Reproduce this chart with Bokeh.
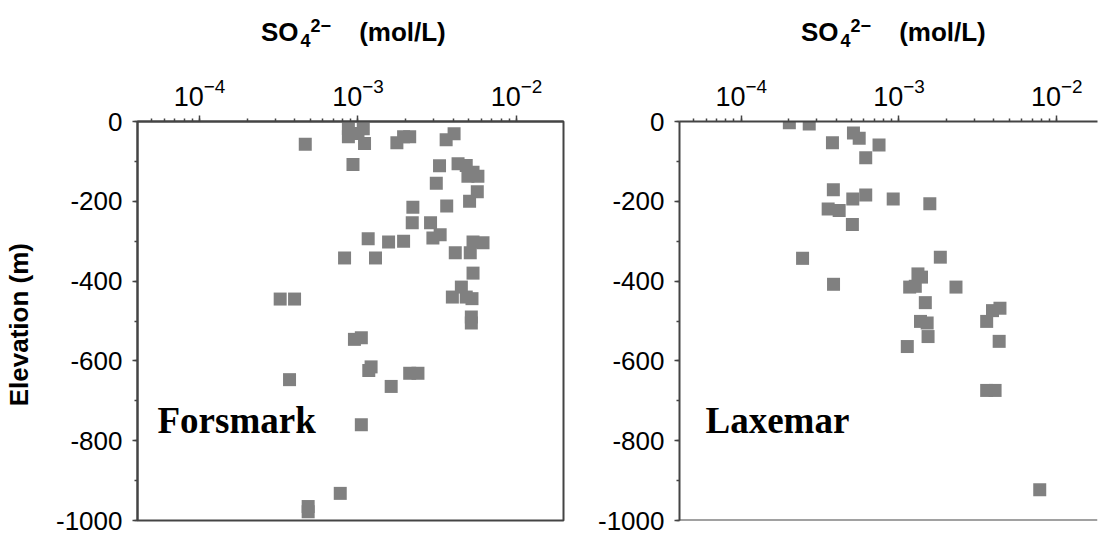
from bokeh.plotting import figure
from bokeh.models import Range1d, Label, Span, SingleIntervalTicker, PrintfTickFormatter, Div
from bokeh.layouts import row, column
from bokeh.embed import file_html
from bokeh.resources import INLINE

# ---- data (SO4 2- in mol/L, elevation in m) ----
fors_conc = [4.65e-4, 8.7e-4, 1.08e-3, 8.7e-4, 1.0e-3, 1.1e-3, 1.94e-3, 2.12e-3, 1.76e-3,
             4.04e-3, 3.6e-3, 9.3e-4, 3.27e-3, 4.28e-3, 4.82e-3, 4.94e-3, 5.71e-3, 5.32e-3,
             3.12e-3, 5.66e-3, 5.06e-3, 3.63e-3, 2.22e-3, 2.2e-3, 2.87e-3, 3.3e-3, 2.97e-3,
             1.16e-3, 1.56e-3, 1.94e-3, 5.32e-3, 6.15e-3, 4.11e-3, 5.11e-3, 8.23e-4, 1.29e-3,
             5.32e-3, 4.49e-3, 3.94e-3, 4.82e-3, 5.24e-3, 3.23e-4, 3.98e-4, 5.19e-3, 5.19e-3,
             9.5e-4, 1.05e-3, 1.21e-3, 1.17e-3, 3.7e-4, 2.12e-3, 2.39e-3, 1.62e-3, 1.05e-3,
             7.73e-4, 4.85e-4, 4.85e-4]
fors_elev = [-57, -18, -18, -38, -30, -55, -38, -38, -53,
             -31, -46, -108, -111, -106, -110, -137, -137, -127,
             -155, -176, -200, -212, -215, -254, -254, -284, -292,
             -294, -302, -300, -302, -304, -329, -329, -342, -342,
             -380, -415, -440, -440, -444, -445, -445, -490, -505,
             -546, -542, -615, -624, -647, -631, -631, -664, -760,
             -932, -965, -978]

lax_conc = [2.02e-4, 2.7e-4, 3.79e-4, 5.15e-4, 5.6e-4, 7.48e-4, 6.16e-4, 3.84e-4, 5.1e-4,
            6.16e-4, 9.2e-4, 1.57e-3, 3.56e-4, 4.18e-4, 5.07e-4, 2.45e-4, 1.83e-3, 1.32e-3,
            1.39e-3, 3.85e-4, 1.17e-3, 1.27e-3, 2.3e-3, 1.47e-3, 4.37e-3, 3.92e-3, 3.6e-3,
            1.37e-3, 1.51e-3, 1.53e-3, 1.13e-3, 4.32e-3, 3.6e-3, 4.07e-3, 7.81e-3]
lax_elev = [-3, -6, -53, -29, -42, -59, -91, -171, -194,
            -184, -194, -206, -219, -223, -258, -343, -340, -382,
            -390, -408, -415, -413, -415, -454, -468, -474, -501,
            -501, -505, -539, -564, -551, -674, -674, -923]

site_names = ["Forsmark", "Laxemar"]
y_label = "Elevation  (m)"
x_title_parts = ["SO", "4", "2\u2212", "(mol/L)"]

MARK = "#808080"
AX = "#444444"
LOG_START = -4.391
DECADE_PX = 158.5
DIV_H = 60
FRAME_TOP = 121
FRAME_H = 399
BOTTOM = 14
H = FRAME_TOP - DIV_H + FRAME_H + BOTTOM


def title_div(width, left):
    so, sub, sup, unit = x_title_parts
    html = (
        f'<div style="position:relative;width:{width}px;height:{DIV_H}px;'
        f'font-family:\'Liberation Sans\',Arial,sans-serif;font-weight:bold;color:black;">'
        f'<span style="position:absolute;left:{left}px;top:19px;font-size:26px;line-height:26px;white-space:nowrap;">'
        f'{so}<span style="font-size:18px;position:relative;top:6px;margin-left:2px;">{sub}</span>'
        f'<span style="font-size:18px;position:relative;top:-9px;">{sup}</span>'
        f'<span style="margin-left:28px;">{unit}</span></span></div>'
    )
    return Div(text=html, width=width, height=DIV_H, margin=0)


def make_panel(conc, elev, name, width, bl, br, frame_w, show_ylabel, outline):
    x_end = 10 ** (LOG_START + frame_w / DECADE_PX)
    p = figure(width=width, height=H, x_axis_type="log", x_axis_location="above",
               x_range=Range1d(10 ** LOG_START, x_end), y_range=Range1d(-1000, 0),
               output_backend="svg", toolbar_location=None,
               min_border_left=bl, min_border_right=br, min_border_top=FRAME_TOP - DIV_H,
               min_border_bottom=BOTTOM, margin=0)
    p.xgrid.visible = False
    p.ygrid.visible = False
    if outline:
        p.outline_line_color = AX
        p.outline_line_width = 2
    else:
        p.outline_line_color = None
        p.add_layout(Span(location=-1000, dimension="width", line_color=AX, line_width=2))

    xa = p.xaxis[0]
    xa.axis_line_color = AX
    xa.axis_line_width = 2
    xa.major_tick_line_color = AX
    xa.minor_tick_line_color = AX
    xa.major_tick_line_width = 1.5
    xa.minor_tick_line_width = 1.5
    xa.major_tick_in = 0
    xa.major_tick_out = 6
    xa.minor_tick_in = 0
    xa.minor_tick_out = 3
    xa.major_label_text_font = "Liberation Sans"
    xa.major_label_text_font_size = "27px"
    xa.major_label_text_color = "black"
    xa.major_label_standoff = 10

    ya = p.yaxis[0]
    ya.ticker = SingleIntervalTicker(interval=200, num_minor_ticks=2)
    ya.formatter = PrintfTickFormatter(format="%d")
    ya.axis_line_color = AX
    ya.axis_line_width = 2
    ya.major_tick_line_color = AX
    ya.minor_tick_line_color = AX
    ya.major_tick_line_width = 1.5
    ya.minor_tick_line_width = 1.5
    ya.major_tick_in = 0
    ya.major_tick_out = 5
    ya.minor_tick_in = 0
    ya.minor_tick_out = 3
    ya.major_label_text_font = "Liberation Sans"
    ya.major_label_text_font_size = "26px"
    ya.major_label_text_color = "black"
    ya.major_label_standoff = 10
    if show_ylabel:
        ya.axis_label = y_label
        ya.axis_label_text_font = "Liberation Sans"
        ya.axis_label_text_font_style = "bold"
        ya.axis_label_text_font_size = "26px"
        ya.axis_label_text_color = "black"
        ya.axis_label_standoff = 19

    p.scatter(conc, elev, marker="square", size=13, fill_color=MARK, line_color=None)

    lx = 20 if name == "Forsmark" else 26
    p.add_layout(Label(x=lx, y=100, x_units="screen", y_units="screen", text=name,
                       text_font="Liberation Serif", text_font_style="bold",
                       text_font_size="37px", text_color="black", text_baseline="alphabetic"))
    return p


LEFT_W = 595
RIGHT_W = 504
p1 = make_panel(fors_conc, fors_elev, site_names[0], LEFT_W, 137, LEFT_W - 137 - 426, 426, True, True)
p2 = make_panel(lax_conc, lax_elev, site_names[1], RIGHT_W, 82, RIGHT_W - 82 - 420, 420, False, False)
d1 = title_div(LEFT_W, 261)
d2 = title_div(RIGHT_W, 206)

layout = column(row(d1, d2, margin=0), row(p1, p2, margin=0), margin=0)
open("out.html", "w").write(file_html(layout, INLINE))
